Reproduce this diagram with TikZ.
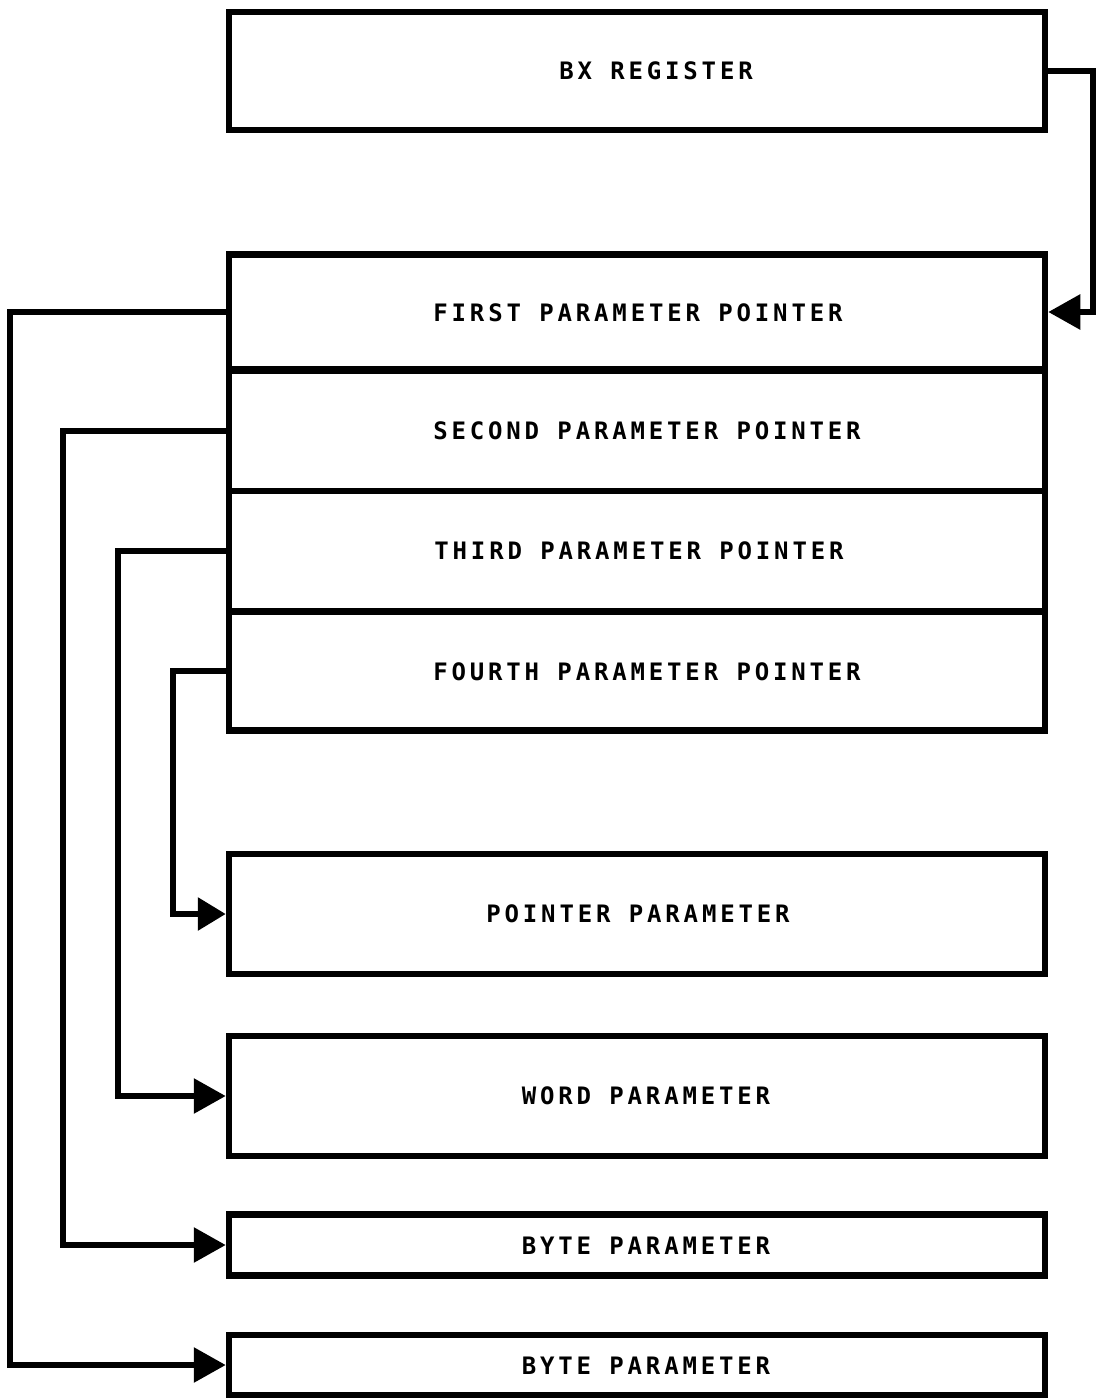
\documentclass[tikz,border=0pt]{standalone}
\usepackage{fontspec}
\newfontfamily\plotfont[LetterSpace=16]{DejaVu Sans Mono Bold}
\usetikzlibrary{arrows.meta}
\begin{document}
\begin{tikzpicture}[x=1pt,y=-1pt,
  box/.style={draw,line width=6.5pt,minimum width=816pt,inner sep=0pt,anchor=center},
  lbl/.style={font=\plotfont\fontsize{24pt}{27pt}\selectfont,inner sep=0pt,anchor=center},
  conn/.style={line width=6pt,-{Triangle[length=32pt,width=34pt]}}]
\useasboundingbox (0,0) rectangle (1095,1399);
% boxes
\node[box,minimum height=118pt] (bx) at (637,71) {};
\node[box,minimum height=115pt] (r1) at (637,312) {};
\node[box,minimum height=120pt] (r2) at (637,431) {};
\node[box,minimum height=120pt] (r3) at (637,551) {};
\node[box,minimum height=119pt] (r4) at (637,671) {};
\node[box,minimum height=120pt] (pp) at (637,914) {};
\node[box,minimum height=120pt] (wp) at (637,1096) {};
\node[box,minimum height=61pt] (b1) at (637,1245) {};
\node[box,minimum height=60pt] (b2) at (637,1365) {};
% labels
\node[lbl] (tbx) at (656,71) {BX REGISTER};
\node[lbl] (t1) at (638,313) {FIRST PARAMETER POINTER};
\node[lbl] (t2) at (647,431) {SECOND PARAMETER POINTER};
\node[lbl] (t3) at (639,551) {THIRD PARAMETER POINTER};
\node[lbl] (t4) at (647,672) {FOURTH PARAMETER POINTER};
\node[lbl] (tp) at (638,914) {POINTER PARAMETER};
\node[lbl] (tw) at (646,1096) {WORD PARAMETER};
\node[lbl] (tb1) at (646,1246) {BYTE PARAMETER};
\node[lbl] (tb2) at (646,1366) {BYTE PARAMETER};
% connectors
\draw[conn] (bx.east) -- ++(45,0) |- (r1.east);
\draw[conn] (r1.west) -- ++(-216,0) |- (b2.west);
\draw[conn] (r2.west) -- ++(-163,0) |- (b1.west);
\draw[conn] (r3.west) -- ++(-108,0) |- (wp.west);
\draw[conn,-{Triangle[length=28pt,width=32pt]}] (r4.west) -- ++(-53,0) |- (pp.west);
\end{tikzpicture}
\end{document}
